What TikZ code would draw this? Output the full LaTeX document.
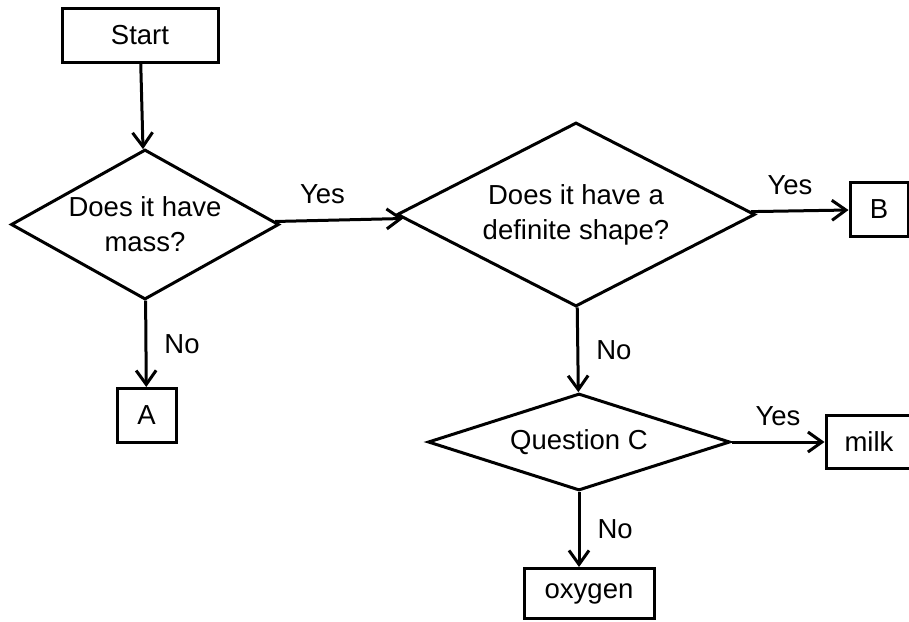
\documentclass[tikz,border=0pt]{standalone}
\usepackage{fontspec}
\setmainfont{Liberation Sans}
\usetikzlibrary{positioning,shapes.geometric,arrows.meta}

\begin{document}
\begin{tikzpicture}[x=1pt,y=1pt,line width=3pt,>={Straight Barb[length=14pt,width=20pt]},font=\fontsize{27.5}{35}\selectfont,box/.style={draw,inner sep=0pt,minimum height=54pt},question/.style={draw,diamond,inner sep=0pt,align=center},answer/.style={inner sep=2pt}]
	\useasboundingbox (0,0) rectangle (909,-621);

	\node[box,minimum width=156pt]													(1)	at (140,-35.5) {Start};
	\node[question,aspect=1.79,minimum width=268pt,minimum height=150pt,node distance=84pt,below=of 1,xshift=5pt]	(2)	{Does it have\\mass?};
	\node[box,minimum width=59pt,node distance=86pt,below=of 2,xshift=1.5pt]			(3)	{A};
	\node[question,aspect=1.95,minimum width=358pt,minimum height=184pt,node distance=115pt,right=of 2,yshift=10pt]	(4)	{Does it have a\\definite shape?};
	\node[box,minimum width=58pt,node distance=92pt,right=of 4,yshift=5pt]				(5)	{B};

	\node[question,aspect=3.11,minimum width=302pt,minimum height=97pt,node distance=84pt,below=of 4,xshift=3pt]	(6)	{Question C};
	\node[box,minimum width=86pt,minimum height=53pt,node distance=93pt,right=of 6]	(7)	{milk};
	\node[box,minimum width=130pt,minimum height=50pt,node distance=75pt,below=of 6,xshift=10pt]	(8)	{oxygen};

	\draw[->] (1) -- (2);
	\draw[->] (2) -- node[answer,above=13pt,pos=0.37] {Yes} (4);
	\draw[->] (2) -- node[answer,right=15pt] {No} (3);
	\draw[->] (4) -- node[answer,above=13pt,pos=0.4] {Yes} (5);
	\draw[->] (4) -- node[answer,right=15pt] {No} (6);
	\draw[->] (6) -- node[answer,above=13pt] {Yes} (7);
	\draw[->] (6.south) -- node[answer,right=15pt] {No} (6.south |- 8.north);
\end{tikzpicture}
\end{document}
